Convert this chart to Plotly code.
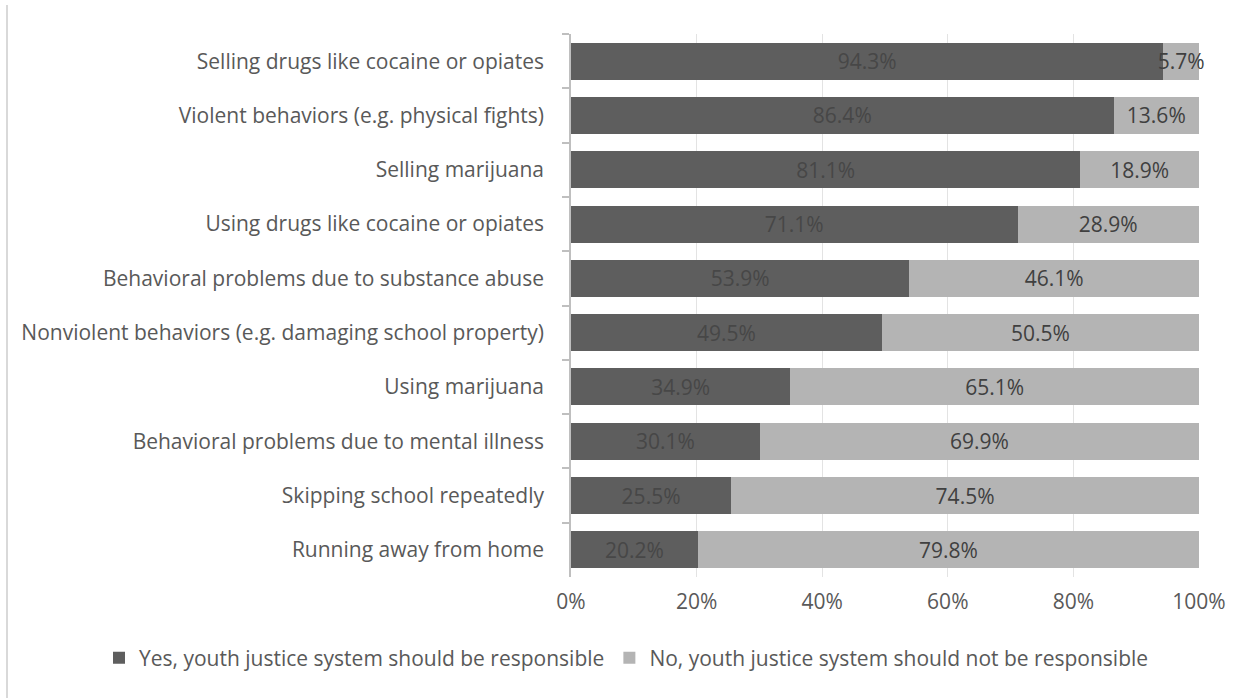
import plotly.graph_objects as go

categories = [
    "Selling drugs like cocaine or opiates",
    "Violent behaviors (e.g. physical fights)",
    "Selling marijuana",
    "Using drugs like cocaine or opiates",
    "Behavioral problems due to substance abuse",
    "Nonviolent behaviors (e.g. damaging school property)",
    "Using marijuana",
    "Behavioral problems due to mental illness",
    "Skipping school repeatedly",
    "Running away from home",
]
yes_values = [94.3, 86.4, 81.1, 71.1, 53.9, 49.5, 34.9, 30.1, 25.5, 20.2]
no_values = [5.7, 13.6, 18.9, 28.9, 46.1, 50.5, 65.1, 69.9, 74.5, 79.8]
series_names = [
    "Yes, youth justice system should be responsible",
    "No, youth justice system should not be responsible",
]
x_tick_vals = [0, 20, 40, 60, 80, 100]
x_tick_text = ["0%", "20%", "40%", "60%", "80%", "100%"]

FONT = "Open Sans"
FS = 21
TEXT_COLOR = "#595959"
DARK = "#5e5e5e"
LIGHT = "#b4b4b4"

fig = go.Figure()
fig.add_trace(go.Bar(
    y=categories, x=yes_values, orientation="h", name=series_names[0],
    marker=dict(color=DARK, line=dict(width=0)),
    text=[f"{v:.1f}%" for v in yes_values],
    textposition="inside", insidetextanchor="middle", constraintext="none",
    textangle=0,
    textfont=dict(family=FONT, size=FS, color="#474747"),
    hoverinfo="skip",
))
fig.add_trace(go.Bar(
    y=categories, x=no_values, orientation="h", name=series_names[1],
    marker=dict(color=LIGHT, line=dict(width=0)),
    text=[f"{v:.1f}%" for v in no_values],
    textposition="inside", insidetextanchor="middle", constraintext="none",
    textangle=0,
    textfont=dict(family=FONT, size=FS, color="#404040"),
    cliponaxis=False,
    hoverinfo="skip",
))

W, H = 1252, 698
ML, MR, MT, MB = 571, 53, 34, 121
pw = W - ML - MR
ph = H - MT - MB

fig.update_layout(
    width=W, height=H,
    margin=dict(l=ML, r=MR, t=MT, b=MB, pad=0),
    barmode="stack", bargap=0.32,
    plot_bgcolor="white", paper_bgcolor="white",
    font=dict(family=FONT, size=FS, color=TEXT_COLOR),
    showlegend=True,
    legend=dict(
        orientation="h", traceorder="normal",
        x=(99 - ML) / pw, y=-(658 - (MT + ph)) / ph,
        xanchor="left", yanchor="middle",
        font=dict(family=FONT, size=FS, color=TEXT_COLOR),
        itemwidth=30, tracegroupgap=0,
        bgcolor="rgba(0,0,0,0)", borderwidth=0,
    ),
    xaxis=dict(
        range=[0, 100], tickvals=x_tick_vals, ticktext=x_tick_text,
        showgrid=True, gridcolor="#e3e3e3", gridwidth=1,
        zeroline=False, showline=False, ticks="",
        tickfont=dict(family=FONT, size=FS, color=TEXT_COLOR),
        ticklabelstandoff=10,
        fixedrange=True,
    ),
    yaxis=dict(
        autorange="reversed", type="category",
        showline=True, linecolor="#bfbfbf", linewidth=1.5,
        ticks="outside", ticklen=7, tickcolor="#bfbfbf", tickwidth=1.5,
        tickson="boundaries",
        tickfont=dict(family=FONT, size=FS, color=TEXT_COLOR),
        ticklabelstandoff=21,
        showgrid=False, zeroline=False,
        fixedrange=True,
    ),
    shapes=[dict(
        type="line", xref="paper", yref="paper",
        x0=(7 - ML) / pw, x1=(7 - ML) / pw,
        y0=-(H - MT - ph) / ph, y1=1 + (MT - 5) / ph,
        line=dict(color="#d9d9d9", width=2),
    )],
)

fig.write_html("out.html")
